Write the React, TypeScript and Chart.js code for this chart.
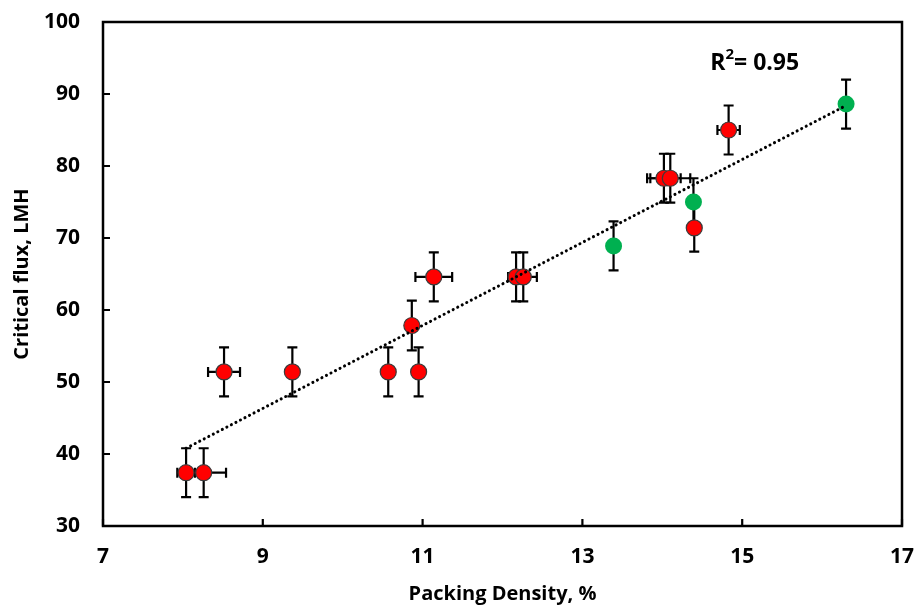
import React, { useEffect, useRef } from "react";
import { Chart, registerables } from "chart.js";

Chart.register(...registerables);

// Red series (measured points)
const redX = [8.04, 8.26, 8.515, 9.37, 10.57, 10.95, 10.865, 11.14, 12.17, 12.26, 14.02, 14.1, 14.4, 14.83];
const redY = [37.4, 37.4, 51.4, 51.4, 51.4, 51.4, 57.85, 64.6, 64.6, 64.6, 78.3, 78.3, 71.4, 85.0];
const redXErr = [0.11, 0.28, 0.2, 0, 0, 0, 0, 0.23, 0.1, 0.17, 0.21, 0.25, 0, 0.14];
const redYErr = [3.4, 3.4, 3.4, 3.4, 3.4, 3.4, 3.45, 3.4, 3.4, 3.4, 3.4, 3.4, 3.3, 3.4];

// Green series
const greenX = [13.39, 14.39, 16.3];
const greenY = [68.9, 75.0, 88.6];
const greenXErr = [0, 0, 0];
const greenYErr = [3.4, 3.3, 3.4];

// Linear trend line endpoints
const trendX = [8.04, 16.3];
const trendY = [40.8, 88.4];

const xTicks = [7, 9, 11, 13, 15, 17];
const yTicks = [30, 40, 50, 60, 70, 80, 90, 100];

const r2Label = { pre: "R", sup: "2", post: "= 0.95", x: 14.6, y: 94.3 };

const FONT = "'Open Sans', 'DejaVu Sans', sans-serif";

export default function App() {
  const ref = useRef<HTMLCanvasElement>(null);

  useEffect(() => {
    document.body.style.margin = "0";
    const canvas = ref.current;
    if (!canvas) return;

    const errorBars = {
      id: "errorBars",
      beforeDatasetsDraw(chart: any) {
        const { ctx } = chart;
        const xs = chart.scales.x;
        const ys = chart.scales.y;
        const cap = 5;
        ctx.save();
        ctx.strokeStyle = "#000";
        ctx.lineWidth = 2.2;
        const draw = (X: number[], Y: number[], XE: number[], YE: number[]) => {
          for (let i = 0; i < X.length; i++) {
            const px = xs.getPixelForValue(X[i]);
            const py = ys.getPixelForValue(Y[i]);
            if (YE[i] > 0) {
              const t = ys.getPixelForValue(Y[i] + YE[i]);
              const b = ys.getPixelForValue(Y[i] - YE[i]);
              ctx.beginPath();
              ctx.moveTo(px, t);
              ctx.lineTo(px, b);
              ctx.moveTo(px - cap, t);
              ctx.lineTo(px + cap, t);
              ctx.moveTo(px - cap, b);
              ctx.lineTo(px + cap, b);
              ctx.stroke();
            }
            if (XE[i] > 0) {
              const l = xs.getPixelForValue(X[i] - XE[i]);
              const r = xs.getPixelForValue(X[i] + XE[i]);
              ctx.beginPath();
              ctx.moveTo(l, py);
              ctx.lineTo(r, py);
              ctx.moveTo(l, py - cap);
              ctx.lineTo(l, py + cap);
              ctx.moveTo(r, py - cap);
              ctx.lineTo(r, py + cap);
              ctx.stroke();
            }
          }
        };
        draw(redX, redY, redXErr, redYErr);
        draw(greenX, greenY, greenXErr, greenYErr);
        ctx.restore();
      },
    };

    const frame = {
      id: "frame",
      afterDraw(chart: any) {
        const { ctx, chartArea: a } = chart;
        const xs = chart.scales.x;
        const ys = chart.scales.y;
        ctx.save();
        ctx.strokeStyle = "#000";
        ctx.lineWidth = 2.5;
        ctx.strokeRect(a.left, a.top, a.right - a.left, a.bottom - a.top);
        ctx.lineWidth = 2.2;
        const tl = 7;
        ctx.beginPath();
        xTicks.forEach((v) => {
          const p = xs.getPixelForValue(v);
          ctx.moveTo(p, a.bottom);
          ctx.lineTo(p, a.bottom - tl);
        });
        yTicks.forEach((v) => {
          const p = ys.getPixelForValue(v);
          ctx.moveTo(a.left, p);
          ctx.lineTo(a.left + tl, p);
        });
        ctx.stroke();

        // R² annotation
        let x = xs.getPixelForValue(r2Label.x);
        const y = ys.getPixelForValue(r2Label.y);
        ctx.fillStyle = "#000";
        ctx.textBaseline = "middle";
        ctx.textAlign = "left";
        ctx.font = `bold 23px ${FONT}`;
        ctx.fillText(r2Label.pre, x, y);
        x += ctx.measureText(r2Label.pre).width;
        ctx.font = `bold 15px ${FONT}`;
        ctx.fillText(r2Label.sup, x, y - 8);
        x += ctx.measureText(r2Label.sup).width;
        ctx.font = `bold 23px ${FONT}`;
        ctx.fillText(r2Label.post, x, y);
        ctx.restore();
      },
    };

    const chart = new Chart(canvas, {
      type: "scatter",
      data: {
        datasets: [
          {
            label: "Trend",
            data: trendX.map((x, i) => ({ x, y: trendY[i] })),
            showLine: true,
            borderColor: "#000",
            borderWidth: 3,
            borderDash: [0.1, 5],
            borderCapStyle: "round",
            pointRadius: 0,
            order: 0,
          } as any,
          {
            label: "Red",
            data: redX.map((x, i) => ({ x, y: redY[i] })),
            backgroundColor: "#FF0000",
            borderColor: "#3a3a3a",
            borderWidth: 1.2,
            pointRadius: 8,
            order: 1,
          },
          {
            label: "Green",
            data: greenX.map((x, i) => ({ x, y: greenY[i] })),
            backgroundColor: "#00B050",
            borderColor: "#00B050",
            borderWidth: 0,
            pointRadius: 8.5,
            order: 2,
          },
        ],
      },
      options: {
        responsive: false,
        animation: false,
        events: [],
        layout: { padding: { left: 0, top: 22, right: 12, bottom: 0 } },
        plugins: {
          legend: { display: false },
          tooltip: { enabled: false },
        },
        scales: {
          x: {
            type: "linear",
            min: 7,
            max: 17,
            afterFit(scale: any) {
              scale.height = 80;
              scale.paddingLeft = 0;
              scale.paddingRight = 0;
            },
            afterBuildTicks(scale: any) {
              scale.ticks = xTicks.map((v) => ({ value: v }));
            },
            grid: { display: false, drawTicks: false },
            border: { display: false },
            ticks: {
              color: "#000",
              padding: 18,
              font: { family: FONT, size: 21, weight: "bold" },
            },
            title: {
              display: true,
              text: "Packing Density, %",
              color: "#000",
              padding: { top: 0, bottom: 0 },
              font: { family: FONT, size: 20, weight: "bold" },
            },
          },
          y: {
            type: "linear",
            min: 30,
            max: 100,
            afterFit(scale: any) {
              scale.width = 103;
              scale.paddingTop = 0;
              scale.paddingBottom = 0;
            },
            afterBuildTicks(scale: any) {
              scale.ticks = yTicks.map((v) => ({ value: v }));
            },
            grid: { display: false, drawTicks: false },
            border: { display: false },
            ticks: {
              color: "#000",
              padding: 23,
              font: { family: FONT, size: 21, weight: "bold" },
            },
            title: {
              display: true,
              text: "Critical flux, LMH",
              color: "#000",
              padding: { top: 10, bottom: 0 },
              font: { family: FONT, size: 20, weight: "bold" },
            },
          },
        },
      },
      plugins: [errorBars, frame],
    } as any);

    return () => chart.destroy();
  }, []);

  return (
    <div style={{ width: 914, height: 606, position: "relative" }}>
      <canvas ref={ref} width={914} height={606} style={{ display: "block" }} />
    </div>
  );
}
